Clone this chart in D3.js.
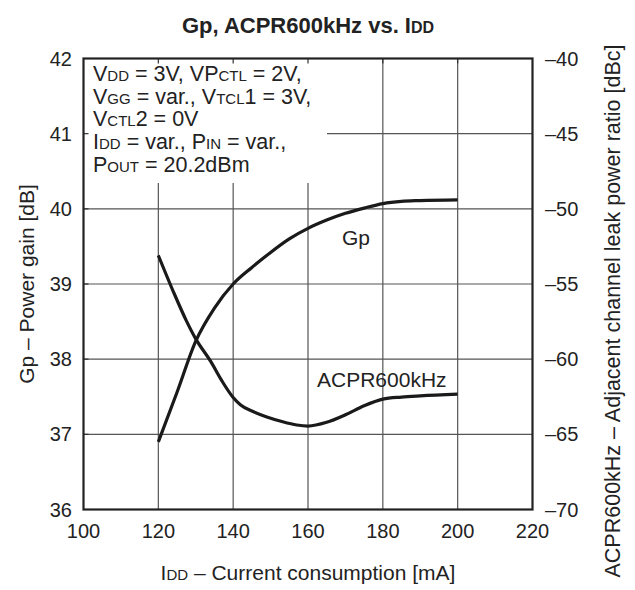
<!DOCTYPE html>
<html>
<head>
<meta charset="utf-8">
<script src="https://cdn.jsdelivr.net/npm/d3@7"></script>
<style>
  body { margin: 0; background: #fff; }
  svg text { font-family: "Liberation Sans", Arial, sans-serif; fill: #222; }
</style>
</head>
<body>
<svg id="chart" width="635" height="590"></svg>
<script>
const xTicks = [100, 120, 140, 160, 180, 200, 220];
const gpTicks = [36, 37, 38, 39, 40, 41, 42];
const acprTicks = [-70, -65, -60, -55, -50, -45, -40];

const gpIdd = [120, 125, 130, 135, 140, 145, 150, 155, 160, 165, 170, 175, 180, 185, 190, 200];
const gpVals = [36.9, 37.56, 38.24, 38.68, 39.0, 39.22, 39.42, 39.6, 39.74, 39.85, 39.94, 40.01, 40.07, 40.1, 40.11, 40.12];

const acprIdd = [120, 124, 127.5, 130, 134, 137, 140, 142, 145, 149, 153, 157, 160, 165, 170, 175, 180, 185, 190, 200];
const acprVals = [-53.1, -55.5, -57.45, -58.65, -60.15, -61.45, -62.55, -63.05, -63.45, -63.85, -64.15, -64.38, -64.45, -64.2, -63.7, -63.1, -62.66, -62.52, -62.44, -62.33];

// text box lines: [text, small?]
const conditions = [
  [['V', 0], ['DD', 1], [' = 3V, VP', 0], ['CTL', 1], [' = 2V,', 0]],
  [['V', 0], ['GG', 1], [' = var., V', 0], ['TCL', 1], ['1 = 3V,', 0]],
  [['V', 0], ['CTL', 1], ['2 = 0V', 0]],
  [['I', 0], ['DD', 1], [' = var., P', 0], ['IN', 1], [' = var.,', 0]],
  [['P', 0], ['OUT', 1], [' = 20.2dBm', 0]]
];

const svg = d3.select('#chart');
const pl = 83.5, pr = 532.5, pt = 58.5, pb = 509.5;

const x = d3.scaleLinear().domain([100, 220]).range([pl, pr]);
const yGp = d3.scaleLinear().domain([36, 42]).range([pb, pt]);
const yAcpr = d3.scaleLinear().domain([-70, -40]).range([pb, pt]);

// grid
const grid = svg.append('g').attr('stroke', '#555').attr('stroke-width', 1.2);
grid.selectAll('.vx').data(xTicks.slice(1, -1)).enter().append('line')
  .attr('x1', d => x(d)).attr('x2', d => x(d))
  .attr('y1', pt).attr('y2', pb);
grid.selectAll('.hy').data(gpTicks.slice(1, -1)).enter().append('line')
  .attr('x1', pl).attr('x2', pr)
  .attr('y1', d => yGp(d)).attr('y2', d => yGp(d));

// white conditions box covering grid
svg.append('rect')
  .attr('x', pl).attr('y', pt)
  .attr('width', 327 - pl).attr('height', 183 - pt)
  .attr('fill', '#fff');

// inward ticks visible in box
const ticks = svg.append('g').attr('stroke', '#333').attr('stroke-width', 1.2);
ticks.selectAll('.tt').data(xTicks.slice(1, -1)).enter().append('line')
  .attr('x1', d => x(d)).attr('x2', d => x(d))
  .attr('y1', pt).attr('y2', pt + 5);
ticks.selectAll('.lt').data(gpTicks.slice(1, -1)).enter().append('line')
  .attr('x1', pl).attr('x2', pl + 5)
  .attr('y1', d => yGp(d)).attr('y2', d => yGp(d));

// frame
svg.append('rect')
  .attr('x', pl).attr('y', pt)
  .attr('width', pr - pl).attr('height', pb - pt)
  .attr('fill', 'none').attr('stroke', '#222').attr('stroke-width', 2.2);

// curves
const gpLine = d3.line()
  .x(d => x(d[0])).y(d => yGp(d[1]))
  .curve(d3.curveMonotoneX);
const acprLine = d3.line()
  .x(d => x(d[0])).y(d => yAcpr(d[1]))
  .curve(d3.curveMonotoneX);

svg.append('path')
  .datum(d3.zip(gpIdd, gpVals))
  .attr('d', gpLine)
  .attr('fill', 'none').attr('stroke', '#1a1a1a').attr('stroke-width', 3.2);
svg.append('path')
  .datum(d3.zip(acprIdd, acprVals))
  .attr('d', acprLine)
  .attr('fill', 'none').attr('stroke', '#1a1a1a').attr('stroke-width', 3.2);

// tick labels
svg.append('g').selectAll('text').data(xTicks).enter().append('text')
  .attr('x', d => x(d)).attr('y', 538)
  .attr('text-anchor', 'middle').attr('font-size', 20)
  .text(d => d);
svg.append('g').selectAll('text').data(gpTicks).enter().append('text')
  .attr('x', 72).attr('y', d => yGp(d) + 7)
  .attr('text-anchor', 'end').attr('font-size', 20)
  .text(d => d);
svg.append('g').selectAll('text').data(acprTicks).enter().append('text')
  .attr('x', 545).attr('y', d => yAcpr(d) + 7)
  .attr('text-anchor', 'start').attr('font-size', 20)
  .text(d => '\u2013' + Math.abs(d));

// title
const title = svg.append('text')
  .attr('x', 308).attr('y', 33)
  .attr('text-anchor', 'middle')
  .attr('font-size', 22).attr('font-weight', 'bold');
title.append('tspan').text('Gp, ACPR600kHz vs. I');
title.append('tspan').attr('font-size', 16).text('DD');

// axis titles
const xl = svg.append('text')
  .attr('x', 308).attr('y', 580)
  .attr('text-anchor', 'middle').attr('font-size', 21);
xl.append('tspan').text('I');
xl.append('tspan').attr('font-size', 15).text('DD');
xl.append('tspan').text(' \u2013 Current consumption [mA]');

svg.append('text')
  .attr('transform', `translate(34,${(pt + pb) / 2}) rotate(-90)`)
  .attr('text-anchor', 'middle').attr('font-size', 21)
  .text('Gp \u2013 Power gain [dB]');

svg.append('text')
  .attr('transform', 'translate(620,311) rotate(-90)')
  .attr('text-anchor', 'middle').attr('font-size', 21.5)
  .text('ACPR600kHz \u2013 Adjacent channel leak power ratio [dBc]');

// condition text
const lineY = [81, 103.5, 126, 149, 172];
conditions.forEach((parts, i) => {
  const t = svg.append('text').attr('x', 93).attr('y', lineY[i]).attr('font-size', 21.5);
  parts.forEach(p => {
    t.append('tspan').attr('font-size', p[1] ? 15 : 21.5).text(p[0]);
  });
});

// curve labels
svg.append('text').attr('x', 342).attr('y', 245).attr('font-size', 21).text('Gp');
svg.append('text').attr('x', 317).attr('y', 387).attr('font-size', 21).text('ACPR600kHz');
</script>
</body>
</html>
